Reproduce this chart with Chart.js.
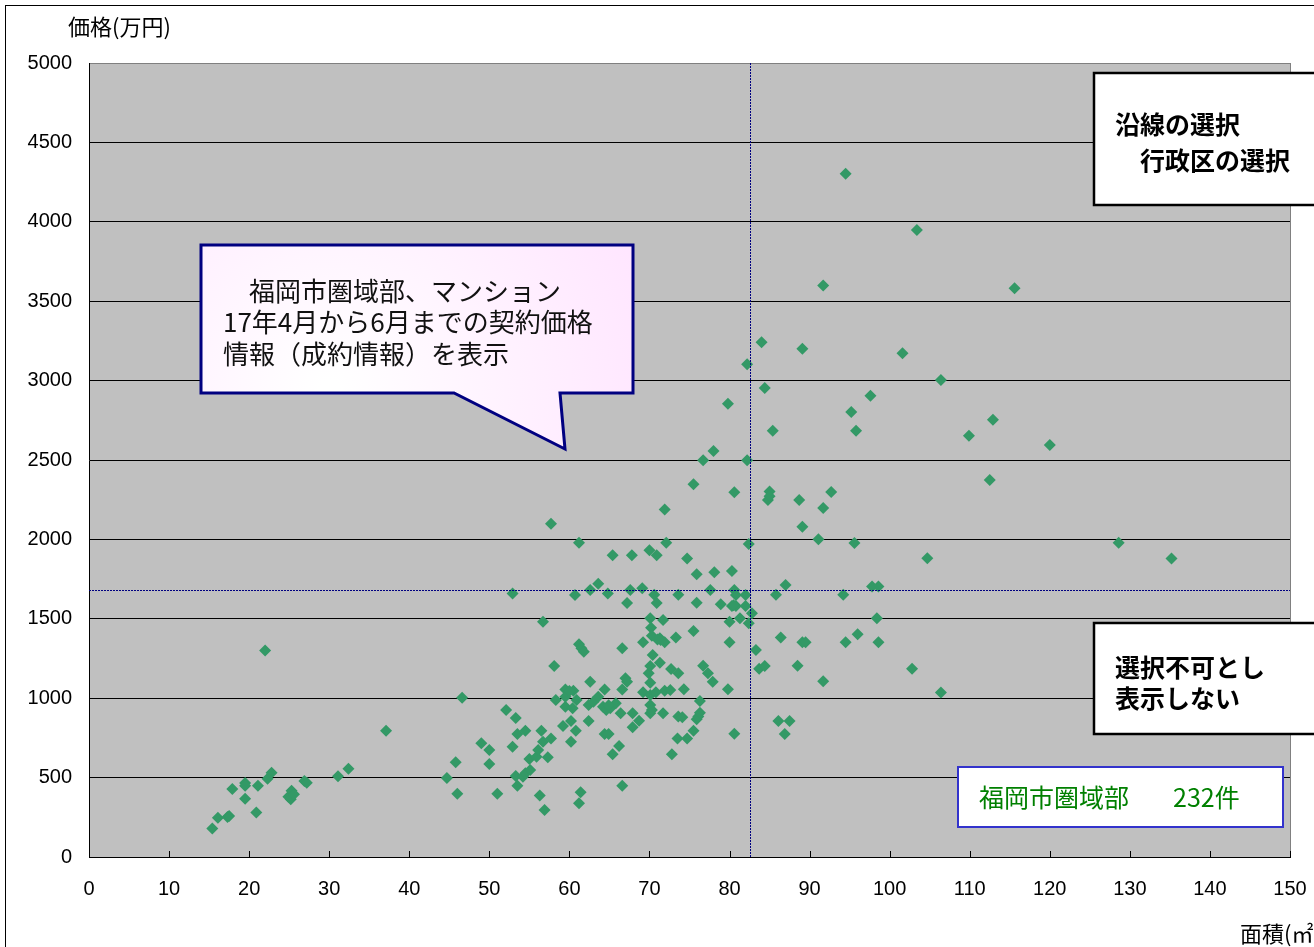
<!DOCTYPE html>
<html lang="ja">
<head>
<meta charset="utf-8">
<title>福岡市圏域部 マンション成約価格</title>
<script src="https://cdn.jsdelivr.net/npm/chart.js@4/dist/chart.umd.min.js"></script>
<style>
  html, body { margin: 0; padding: 0; background: #fff; }
  canvas { display: block; }
</style>
</head>
<body>
<canvas id="chart" width="1314" height="947"></canvas>
<script>
// 面積 (㎡) of each contract
const areas = [
  15.4, 16.1, 17.3, 17.5, 17.9, 19.5, 19.5, 19.5, 20.9, 21.1,
  22.0, 22.3, 22.8, 24.9, 25.3, 25.2, 25.6, 26.9, 27.2, 31.1,
  32.4, 37.1, 44.7, 45.8, 46.0, 46.6, 49.0, 50.0, 50.0, 51.0,
  52.1, 52.9, 52.9, 53.3, 53.3, 53.5, 53.5, 54.5, 54.2, 54.5,
  55.0, 55.1, 55.9, 56.1, 56.3, 56.5, 56.7, 56.7, 56.9, 57.3,
  57.7, 57.7, 58.1, 58.3, 59.2, 59.5, 59.5, 59.5, 60.2, 60.2,
  60.4, 60.5, 60.7, 60.8, 60.9, 61.2, 61.2, 61.5, 61.8, 61.4,
  61.2, 62.4, 62.4, 62.6, 62.6, 63.0, 63.6, 63.6, 64.2, 64.4,
  64.4, 64.6, 64.8, 64.9, 65.1, 65.4, 65.4, 65.8, 66.2, 66.4,
  66.6, 66.6, 66.6, 67.0, 67.2, 67.2, 67.6, 67.8, 67.9, 67.9,
  68.7, 69.1, 69.2, 69.2, 69.9, 70.0, 70.1, 70.1, 70.1, 70.1,
  70.1, 70.1, 70.2, 70.3, 70.3, 70.4, 70.6, 70.8, 70.9, 70.9,
  71.3, 71.3, 71.4, 71.7, 71.7, 71.9, 71.9, 71.9, 72.1, 72.6,
  72.7, 72.8, 73.3, 73.5, 73.6, 73.6, 73.6, 74.1, 74.3, 74.7,
  74.7, 75.5, 75.5, 75.5, 75.9, 75.9, 75.9, 76.1, 76.3, 76.3,
  76.7, 76.7, 77.3, 77.6, 77.9, 78.0, 78.1, 78.9, 79.8, 79.8,
  80.0, 80.0, 80.3, 80.3, 80.6, 80.6, 80.6, 80.8, 80.8, 81.3,
  82.0, 82.0, 82.2, 82.2, 82.4, 82.4, 82.8, 83.3, 83.7, 84.0,
  84.4, 84.4, 85.0, 84.8, 85.0, 85.4, 85.8, 86.1, 86.4, 86.9,
  87.0, 87.5, 88.5, 88.7, 89.1, 89.1, 89.1, 89.5, 91.1, 91.7,
  91.7, 91.7, 92.7, 94.2, 94.5, 94.5, 95.2, 95.6, 95.8, 96.0,
  97.6, 97.8, 98.4, 98.6, 98.6, 101.6, 102.8, 103.4, 104.7, 106.4,
  106.4, 109.9, 112.5, 112.9, 115.6, 120.0, 128.6, 135.2, 64.9, 71.0,
  60.0, 80.5
];

// 価格 (万円) of each contract, same order as areas
const prices = [
   180,  247,  252,  258,  428,  367,  466,  449,  281,  449,
  1300,  493,  531,  380,  417,  363,  395,  479,  468,  508,
   556,  795,  497,  596,  399, 1003,  716,  674,  586,  399,
   926,  694, 1660,  875,  510,  449,  774,  795,  506,  527,
   617,  548,  632,  674,  388,  795,  726, 1482,  296,  628,
   747, 2099, 1203,  989,  825, 1054, 1009,  946,  856,  726,
   936, 1047, 1650,  795,  989, 1979, 1339, 1314, 1293,  407,
   338,  957,  856, 1104, 1681,  978, 1009, 1721,  946, 1054,
   774,  926, 1660,  774,  936, 1900,  647,  968,  699,  905,
  1314, 1054,  449, 1125, 1104, 1599, 1681, 1900,  905,  817,
   858, 1692, 1352, 1037, 1157, 1931, 1503, 1203, 1098, 1020,
   957,  905, 1444, 1394,  926, 1272, 1652, 1037, 1900, 1599,
  1377, 1224, 1366, 1492,  905, 1352, 1047, 2189, 1979, 1052,
  1184,  647, 1383,  747, 1652, 1157,  884,  880, 1056,  747,
  1879, 2347, 1423,  795, 1780, 1601,  867,  884,  909,  982,
  2498, 1205, 1157, 1681, 1104, 2557, 1793, 1591, 2855, 1056,
  1482, 1352, 1801, 1581, 2297, 1681,  776, 1650, 1581, 1503,
  1650, 1581, 2498, 3103, 1971, 1472, 1535, 1303, 1186, 3242,
  1203, 2954, 2302, 2248, 2271, 2684, 1652,  856, 1382,  774,
  1713,  856, 1204, 2248, 3201, 2079, 1353, 1353, 2001, 3599,
  2198, 1106, 2298, 1652, 4303, 1353, 2803, 1978, 2684, 1402,
  2905, 1704, 1504, 1704, 1353, 3172, 1186, 3948, 1881, 3004,
  1036, 2653, 2374, 2754, 3581, 2594, 1979, 1879,  955, 1370,
  1045, 1585
];

const xTickValues = [0, 10, 20, 30, 40, 50, 60, 70, 80, 90, 100, 110, 120, 130, 140, 150];
const yTickValues = [0, 500, 1000, 1500, 2000, 2500, 3000, 3500, 4000, 4500, 5000];

// average area / average price guide lines
const avgArea = 82.5;
const avgPrice = 1680;

const regionName = '福岡市圏域部';
const dealCount = 232;

const yTitle = '価格(万円)';
const xTitle = '面積(㎡)';
const noteLines = ['　福岡市圏域部、マンション', '17年4月から6月までの契約価格', '情報（成約情報）を表示'];
const selectLines = ['沿線の選択', '　行政区の選択'];
const disabledLines = ['選択不可とし', '表示しない'];

const JP = '"Noto Sans CJK JP", "Noto Sans", sans-serif';
const LAT = '"Liberation Sans", Arial, sans-serif';

const points = areas.map((a, i) => ({ x: a, y: prices[i] }));

const decor = {
  id: 'decor',
  beforeDraw(chart) {
    const { ctx, chartArea: a } = chart;
    ctx.save();
    ctx.fillStyle = '#ffffff';
    ctx.fillRect(0, 0, chart.width, chart.height);
    // outer frame of the chart object
    ctx.strokeStyle = '#000';
    ctx.lineWidth = 1;
    ctx.strokeRect(5.5, 5.5, chart.width + 20, chart.height + 20);
    // plot area
    ctx.fillStyle = '#c0c0c0';
    ctx.fillRect(a.left, a.top, a.right - a.left, a.bottom - a.top);
    ctx.restore();
  },
  afterDatasetsDraw(chart) {
    const { ctx, chartArea: a, scales: { x, y } } = chart;
    ctx.save();

    // right edge of plot area
    ctx.strokeStyle = '#808080';
    ctx.lineWidth = 1;
    ctx.beginPath();
    ctx.moveTo(Math.round(a.right) + 0.5, a.top);
    ctx.lineTo(Math.round(a.right) + 0.5, a.bottom);
    ctx.stroke();

    // inward tick marks on the x axis
    ctx.strokeStyle = '#000';
    ctx.beginPath();
    xTickValues.forEach(v => {
      const px = Math.round(x.getPixelForValue(v)) + 0.5;
      ctx.moveTo(px, a.bottom);
      ctx.lineTo(px, a.bottom - 6);
    });
    ctx.stroke();

    // dotted guide lines
    ctx.strokeStyle = '#000080';
    ctx.lineWidth = 1;
    ctx.setLineDash([2, 1]);
    const gx = Math.round(x.getPixelForValue(avgArea)) + 0.5;
    const gy = Math.round(y.getPixelForValue(avgPrice)) + 0.5;
    ctx.beginPath();
    ctx.moveTo(gx, a.top);
    ctx.lineTo(gx, a.bottom);
    ctx.moveTo(a.left, gy);
    ctx.lineTo(a.right, gy);
    ctx.stroke();
    ctx.setLineDash([]);

    // callout box with tail
    const grad = ctx.createRadialGradient(330, 390, 10, 330, 390, 330);
    grad.addColorStop(0, '#ffffff');
    grad.addColorStop(1, '#ffe6ff');
    ctx.beginPath();
    ctx.moveTo(201, 245);
    ctx.lineTo(633, 245);
    ctx.lineTo(633, 393);
    ctx.lineTo(560, 393);
    ctx.lineTo(565, 449);
    ctx.lineTo(454, 393);
    ctx.lineTo(201, 393);
    ctx.closePath();
    ctx.fillStyle = grad;
    ctx.fill();
    ctx.strokeStyle = '#000080';
    ctx.lineWidth = 3;
    ctx.lineJoin = 'miter';
    ctx.stroke();

    ctx.fillStyle = '#111';
    ctx.font = '26px ' + JP;
    ctx.textBaseline = 'middle';
    ctx.textAlign = 'left';
    const noteY = [291, 322, 354];
    noteLines.forEach((t, i) => ctx.fillText(t, 223, noteY[i]));

    // selection box (top right)
    ctx.fillStyle = '#fff';
    ctx.fillRect(1094, 73, 240, 132);
    ctx.strokeStyle = '#000';
    ctx.lineWidth = 2.5;
    ctx.strokeRect(1094, 73, 240, 132);
    ctx.fillStyle = '#000';
    ctx.font = 'bold 25px ' + JP;
    const selY = [124, 160];
    selectLines.forEach((t, i) => ctx.fillText(t, 1115, selY[i]));

    // not-selectable box (bottom right)
    ctx.fillStyle = '#fff';
    ctx.fillRect(1094, 623, 240, 111);
    ctx.strokeRect(1094, 623, 240, 111);
    ctx.fillStyle = '#000';
    const disY = [667, 698];
    disabledLines.forEach((t, i) => ctx.fillText(t, 1115, disY[i]));

    // count box
    ctx.fillStyle = '#fff';
    ctx.fillRect(958, 767, 325, 60);
    ctx.strokeStyle = '#3333cc';
    ctx.lineWidth = 2;
    ctx.strokeRect(958, 767, 325, 60);
    ctx.fillStyle = '#008000';
    ctx.font = '25px ' + JP;
    ctx.fillText(regionName, 979, 797);
    ctx.fillText(dealCount + '件', 1173, 797);

    // axis titles
    ctx.fillStyle = '#000';
    ctx.font = '22px ' + JP;
    ctx.fillText(yTitle, 68, 27);
    ctx.fillText(xTitle, 1240, 934);

    ctx.restore();
  }
};

new Chart(document.getElementById('chart'), {
  type: 'scatter',
  data: {
    datasets: [{
      label: regionName,
      data: points,
      pointStyle: 'rectRot',
      pointRadius: 6,
      pointHoverRadius: 6,
      pointBackgroundColor: '#339966',
      pointBorderColor: '#339966',
      pointBorderWidth: 0
    }]
  },
  options: {
    responsive: false,
    devicePixelRatio: 1,
    animation: false,
    events: [],
    layout: { padding: { left: 0, top: 63, right: 24, bottom: 0 } },
    plugins: {
      legend: { display: false },
      tooltip: { enabled: false }
    },
    scales: {
      x: {
        type: 'linear',
        min: 0,
        max: 150,
        afterBuildTicks: s => { s.ticks = xTickValues.map(v => ({ value: v })); },
        afterFit: s => { s.height = 90; s.paddingLeft = 0; s.paddingRight = 0; },
        grid: { display: false, drawTicks: false },
        border: { display: true, color: '#000', width: 1 },
        ticks: {
          color: '#000',
          font: { family: LAT, size: 20 },
          padding: 20,
          maxRotation: 0,
          autoSkip: false,
          callback: v => String(v)
        }
      },
      y: {
        type: 'linear',
        min: 0,
        max: 5000,
        afterBuildTicks: s => { s.ticks = yTickValues.map(v => ({ value: v })); },
        afterFit: s => { s.width = 89; s.paddingTop = 0; s.paddingBottom = 0; },
        grid: {
          color: c => (c.tick && c.tick.value === 5000 ? '#808080' : '#000'),
          lineWidth: 1,
          drawTicks: false
        },
        border: { display: true, color: '#000', width: 1 },
        ticks: {
          color: '#000',
          font: { family: LAT, size: 20 },
          padding: 17,
          autoSkip: false,
          callback: v => String(v)
        }
      }
    }
  },
  plugins: [decor]
});
</script>
</body>
</html>
